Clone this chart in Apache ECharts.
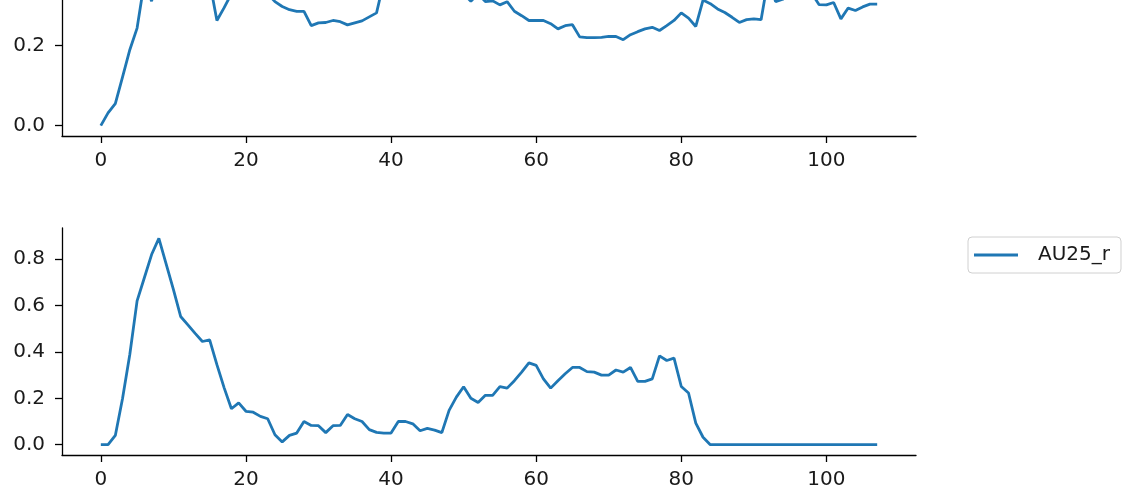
<!DOCTYPE html>
<html>
<head>
<meta charset="utf-8">
<script src="https://cdn.jsdelivr.net/npm/echarts@6/dist/echarts.min.js"></script>
<style>html,body{margin:0;padding:0;background:#fff}#c{width:1136px;height:501px}</style>
</head>
<body>
<div id="c"></div>
<script>
// x positions are the frame index 0..107
const topValues = [
  0.0, 0.032, 0.055, 0.122, 0.19, 0.244, 0.36, 0.311, 0.40, 0.45,
  0.50, 0.516, 0.48, 0.44, 0.40, 0.36, 0.263, 0.295, 0.33, 0.36,
  0.38, 0.37, 0.35, 0.33, 0.31, 0.298, 0.29, 0.286, 0.286, 0.25,
  0.257, 0.258, 0.263, 0.26, 0.252, 0.257, 0.262, 0.272, 0.282, 0.36,
  0.38, 0.40, 0.42, 0.44, 0.43, 0.41, 0.39, 0.37, 0.35, 0.34,
  0.33, 0.311, 0.33, 0.31, 0.312, 0.302, 0.31, 0.286, 0.275, 0.263,
  0.263, 0.263, 0.255, 0.242, 0.25, 0.2525, 0.222, 0.22, 0.22, 0.221,
  0.223, 0.223, 0.215, 0.2275, 0.235, 0.242, 0.246, 0.238, 0.25, 0.263,
  0.282, 0.269, 0.248, 0.314, 0.305, 0.292, 0.283, 0.271, 0.258, 0.265,
  0.267, 0.265, 0.37, 0.31, 0.316, 0.33, 0.34, 0.34, 0.33, 0.3025,
  0.302, 0.308, 0.267, 0.294, 0.288, 0.297, 0.304, 0.304
];
const au25Values = [
  0.0, 0.0, 0.04, 0.20, 0.39, 0.62, 0.72, 0.82, 0.89, 0.78,
  0.67, 0.553, 0.517, 0.48, 0.445, 0.452, 0.345, 0.245, 0.155, 0.18,
  0.144, 0.14, 0.122, 0.112, 0.043, 0.012, 0.04, 0.05, 0.10, 0.083,
  0.082, 0.052, 0.082, 0.083, 0.13, 0.112, 0.10, 0.065, 0.053, 0.05,
  0.05, 0.10, 0.10, 0.09, 0.06, 0.07, 0.063, 0.052, 0.148, 0.205,
  0.25, 0.20, 0.182, 0.213, 0.213, 0.25, 0.244, 0.276, 0.313, 0.353,
  0.342, 0.284, 0.244, 0.276, 0.306, 0.333, 0.333, 0.315, 0.313, 0.30,
  0.30, 0.322, 0.313, 0.333, 0.273, 0.273, 0.284, 0.383, 0.363, 0.373,
  0.251, 0.223, 0.093, 0.032, 0.0, 0.0, 0.0, 0.0, 0.0, 0.0,
  0.0, 0.0, 0.0, 0.0, 0.0, 0.0, 0.0, 0.0, 0.0, 0.0,
  0.0, 0.0, 0.0, 0.0, 0.0, 0.0, 0.0, 0.0
];
const xTicks = [0, 20, 40, 60, 80, 100];
const topYTicks = [0, 0.2, 0.4];
const bottomYTicks = [0, 0.2, 0.4, 0.6, 0.8];
const seriesName = 'AU25_r';

const toPairs = arr => arr.map((v, i) => [i, v]);
const n = au25Values.length;
const xMin = -(n - 1) * 0.05, xMax = (n - 1) * 1.05;
const topMax = Math.max(...topValues), botMax = Math.max(...au25Values);
// the upper panel is cut off by the top edge of the picture: only its lower part shows
const topMin = -0.05 * topMax;
const topVisibleMax = topMin + 0.34;

const FONT = 'DejaVu Sans';
const FS = 20;
const axisCommon = {
  axisLine: {show: true, onZero: false, lineStyle: {color: '#000', width: 1.3}},
  axisTick: {show: true, length: 7, lineStyle: {color: '#000', width: 1.3}},
  splitLine: {show: false}
};
function xAxis(idx) {
  return Object.assign({}, axisCommon, {
    type: 'value', gridIndex: idx, min: xMin, max: xMax,
    axisTick: Object.assign({}, axisCommon.axisTick, {customValues: xTicks}),
    axisLabel: {customValues: xTicks, fontFamily: FONT, fontSize: FS, color: '#1a1a1a', margin: 15,
      formatter: v => String(Math.round(v))}
  });
}
function yAxis(idx, min, max, ticks) {
  return Object.assign({}, axisCommon, {
    type: 'value', gridIndex: idx, min: min, max: max,
    axisTick: Object.assign({}, axisCommon.axisTick, {customValues: ticks}),
    axisLabel: {customValues: ticks, fontFamily: FONT, fontSize: FS, color: '#1a1a1a', margin: 17,
      formatter: v => v.toFixed(1)}
  });
}
const chart = echarts.init(document.getElementById('c'), null, {renderer: 'canvas'});
chart.setOption({
  animation: false,
  backgroundColor: '#fff',
  grid: [
    {left: 62, width: 854, top: 0, height: 136},
    {left: 62, width: 854, top: 228, height: 227}
  ],
  xAxis: [xAxis(0), xAxis(1)],
  yAxis: [yAxis(0, topMin, topVisibleMax, topYTicks.filter(t => t <= topVisibleMax)),
          yAxis(1, -0.05 * botMax, 1.05 * botMax, bottomYTicks)],
  legend: {
    data: [seriesName],
    left: 968, top: 237,
    orient: 'vertical',
    padding: [8, 11, 8, 6],
    itemWidth: 44, itemHeight: 14,
    borderColor: '#d0d0d0', borderWidth: 1, borderRadius: 4,
    backgroundColor: '#fff',
    icon: 'path://M0,5.8 L44,5.8 L44,8.6 L0,8.6 Z',
    textStyle: {fontFamily: FONT, fontSize: FS, color: '#1a1a1a', padding: [0, 0, 0, 15]}
  },
  series: [
    {type: 'line', name: 'top', xAxisIndex: 0, yAxisIndex: 0, data: toPairs(topValues),
      showSymbol: false, clip: true, lineStyle: {color: '#1f77b4', width: 2.8}, itemStyle: {color: '#1f77b4'}},
    {type: 'line', name: seriesName, xAxisIndex: 1, yAxisIndex: 1, data: toPairs(au25Values),
      showSymbol: false, clip: true, lineStyle: {color: '#1f77b4', width: 2.8}, itemStyle: {color: '#1f77b4'}}
  ]
});
</script>
</body>
</html>
